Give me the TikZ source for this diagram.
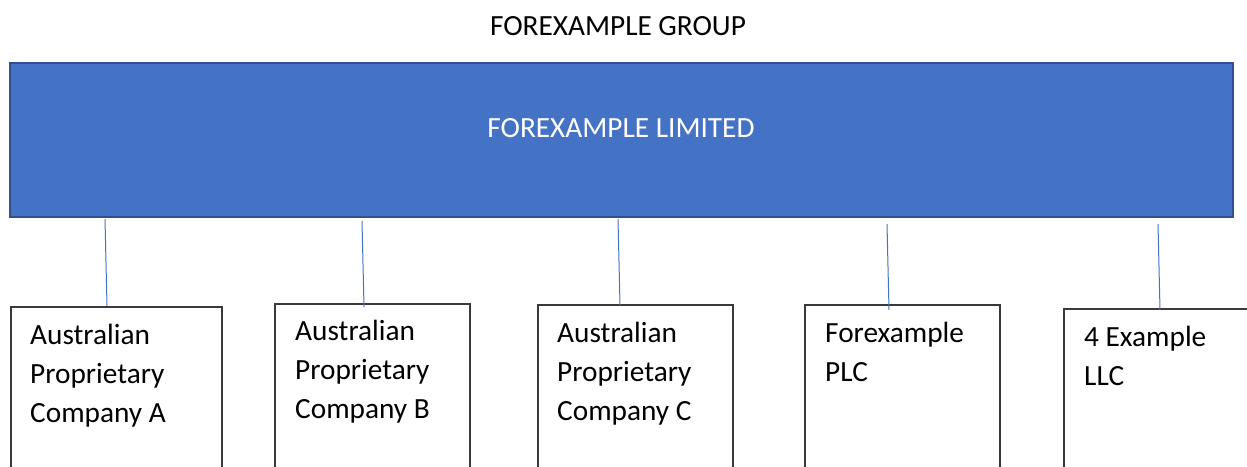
\documentclass[tikz,border=0pt]{standalone}
\usepackage{fontspec}
\setmainfont{Carlito}
\definecolor{accblue}{HTML}{4472C4}
\definecolor{accedge}{HTML}{2F528F}
\definecolor{boxedge}{HTML}{3A3A3A}
\begin{document}
\begin{tikzpicture}[x=1pt,y=1pt,
  txt/.style={font=\fontsize{29.3}{39}\selectfont, inner sep=0pt, anchor=base west, align=left},
  topbox/.style={draw=accedge, fill=accblue, line width=2pt, anchor=north west, inner sep=0pt, minimum width=1223pt, minimum height=154pt},
  subbox/.style={draw=boxedge, line width=1.5pt, anchor=north west, inner sep=0pt, minimum height=200pt},
  conn/.style={draw=accblue, line width=1pt}]
\useasboundingbox (0,0) rectangle (1247,-466);
\node[font=\fontsize{29.3}{39}\selectfont, inner sep=0pt, anchor=base] (grp) at (618,-35) {FOREXAMPLE GROUP};
\node[topbox] (lim) at (9,-62) {};
\node[font=\fontsize{29.3}{39}\selectfont, text=white, inner sep=0pt, anchor=base] (limt) at (621,-137) {FOREXAMPLE LIMITED};
% sub boxes
\node[subbox, minimum width=211pt] (ba) at (10,-306) {};
\node[subbox, minimum width=195pt] (bb) at (274,-303) {};
\node[subbox, minimum width=195pt] (bc) at (537,-304) {};
\node[subbox, minimum width=195pt] (bd) at (804,-304) {};
\node[subbox, minimum width=210pt] (be) at (1063,-308) {};
% texts (anchor is baseline of last line)
\node[txt] (ta) at (30,-422) {Australian\\Proprietary\\Company A};
\node[txt] (tb) at (295,-418) {Australian\\Proprietary\\Company B};
\node[txt] (tc) at (557,-420) {Australian\\Proprietary\\Company C};
\node[txt] (td) at (825,-381) {Forexample\\PLC};
\node[txt] (te) at (1084,-385) {4 Example\\LLC};
% connectors
\coordinate (ca) at ([xshift=96pt,yshift=-1pt]lim.south west);
\coordinate (cb) at ([xshift=353pt,yshift=-3pt]lim.south west);
\coordinate (cc) at ([xshift=609pt,yshift=-1pt]lim.south west);
\coordinate (cd) at ([xshift=878pt,yshift=-6pt]lim.south west);
\coordinate (ce) at ([xshift=1149pt,yshift=-6pt]lim.south west);
\draw[conn] (ca) -- ([xshift=97pt]ba.north west);
\draw[conn] (cb) -- ([xshift=90pt,yshift=-4pt]bb.north west);
\draw[conn] (cc) -- ([xshift=83pt,yshift=-1pt]bc.north west);
\draw[conn] (cd) -- ([xshift=85pt,yshift=-6pt]bd.north west);
\draw[conn] (ce) -- ([xshift=97pt,yshift=-2pt]be.north west);
\end{tikzpicture}
\end{document}
